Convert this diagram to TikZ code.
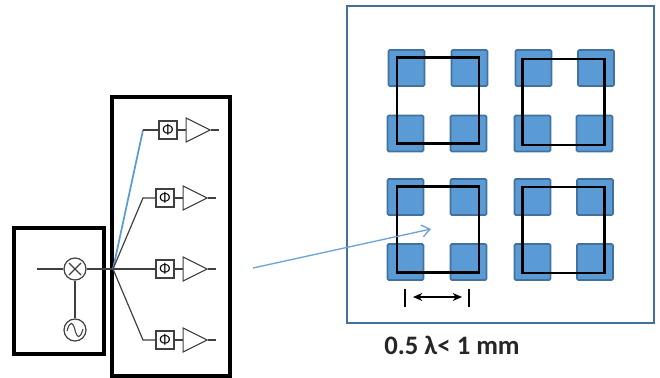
\documentclass[tikz,border=0pt]{standalone}
\usepackage{fontspec}
\setmainfont{Carlito}
\usepackage{tikz}
\usetikzlibrary{positioning, shapes.geometric, arrows.meta}

\definecolor{patchfill}{HTML}{5B9BD5}
\definecolor{patchline}{HTML}{41719C}
\definecolor{arrowblue}{HTML}{6FA3D6}
\definecolor{wiregray}{HTML}{404040}

\begin{document}
\begin{tikzpicture}[x=0.75pt, y=-0.75pt,
    frame/.style={draw, line width=2.6pt},
    patch/.style={draw=patchline, fill=patchfill, line width=1.2pt, rounded corners=1pt, minimum size=27pt},
    chip/.style={draw, line width=2pt, minimum width=61.5pt, minimum height=64.5pt},
    wire/.style={draw=wiregray, line width=0.9pt},
    phaseshift/.style={draw=wiregray, line width=0.8pt, minimum size=13.5pt, inner sep=0pt, font=\fontsize{11}{11}\selectfont},
    amp/.style={draw=wiregray, line width=0.8pt, isosceles triangle, isosceles triangle stretches, minimum width=18pt, minimum height=18pt, inner sep=0pt},
    mixernode/.style={draw=wiregray, line width=0.9pt, circle, minimum size=16.5pt, inner sep=0pt,
        path picture={\draw[wiregray, line width=0.8pt, shift={(path picture bounding box.center)}] (-6,-6) -- (6,6) (-6,6) -- (6,-6);}},
    oscnode/.style={draw=wiregray, line width=0.9pt, circle, minimum size=16.5pt, inner sep=0pt,
        path picture={\draw[wiregray, line width=0.8pt, shift={(path picture bounding box.center)}] (-8,1) .. controls (-5,-10) and (-2,-8) .. (0,0) .. controls (2,8) and (5,10) .. (8,-1);}}
]
    \useasboundingbox (0,0) rectangle (660,378);

    % Boxes round the two circuit parts
    \node (leftbox) [frame, minimum width=67.5pt, minimum height=94.5pt] at (59,291) {};
    \node (rightbox) [frame, minimum width=88.5pt, minimum height=209pt] at (171,236.5) {};

    % Mixer and oscillator
    \node (mixer) [mixernode] at (75,269) {};
    \node (osc) [oscnode] at (75,330) {};
    \coordinate (input) at (37,269);
    \coordinate (split) at (113,269);

    % Phase shifters with their amplifiers
    \node (phaseA) [phaseshift] at (168,130) {Φ};
    \node (phaseB) [phaseshift] at (165,198) {Φ};
    \node (phaseC) [phaseshift] at (165,269) {Φ};
    \node (phaseD) [phaseshift] at (165,340) {Φ};
    \node (ampA) [amp, right=6pt of phaseA] {};
    \node (ampB) [amp, right=6pt of phaseB] {};
    \node (ampC) [amp, right=6pt of phaseC] {};
    \node (ampD) [amp, right=6pt of phaseD] {};
    \coordinate (kneeA) at (143,130);
    \coordinate (kneeB) at (143,198);
    \coordinate (kneeD) at (143,340);
    \coordinate [right=6pt of ampA.apex] (outA);
    \coordinate [right=6pt of ampB.apex] (outB);
    \coordinate [right=6pt of ampC.apex] (outC);
    \coordinate [right=6pt of ampD.apex] (outD);

    % Wiring
    \draw[wire] (input) -- (mixer);
    \draw[wire] (mixer) -- (osc);
    \draw[wire] (mixer) -- (split);
    \draw[wire] (split) -- (phaseC);
    \draw[patchfill, line width=1.3pt] (split) -- (kneeA);
    \draw[wire] (kneeA) -- (phaseA);
    \draw[wire] (split) -- (kneeB) -- (phaseB);
    \draw[wire] (split) -- (kneeD) -- (phaseD);
    \draw[wire] (phaseA) -- (ampA);
    \draw[wire] (phaseB) -- (ampB);
    \draw[wire] (phaseC) -- (ampC);
    \draw[wire] (phaseD) -- (ampD);
    \draw[wire] (ampA.apex) -- (outA);
    \draw[wire] (ampB.apex) -- (outB);
    \draw[wire] (ampC.apex) -- (outC);
    \draw[wire] (ampD.apex) -- (outD);

    % Array panel with its patches
    \node (panel) [draw=patchline, line width=1.6pt, minimum width=230pt, minimum height=237.5pt] at (500.5,164.5) {};
    \node (p11) [patch] at (406.5,68) {};
    \node (p12) [patch] at (469.5,68) {};
    \node (p13) [patch] at (533.5,68) {};
    \node (p14) [patch] at (596,68) {};
    \node (p21) [patch] at (405.5,133.5) {};
    \node (p22) [patch] at (468.5,133.5) {};
    \node (p23) [patch] at (532.5,133.5) {};
    \node (p24) [patch] at (594.5,133.5) {};
    \node (p31) [patch] at (405.5,197) {};
    \node (p32) [patch] at (468.5,197) {};
    \node (p33) [patch] at (532.5,197) {};
    \node (p34) [patch] at (595,197) {};
    \node (p41) [patch] at (405.5,262) {};
    \node (p42) [patch] at (468.5,262) {};
    \node (p43) [patch] at (532.5,262) {};
    \node (p44) [patch] at (595,262) {};

    % Chips over the patches
    \node (chipA) [chip] at (438,100.5) {};
    \node (chipB) [chip] at (563.5,102) {};
    \node (chipC) [chip] at (438,229.5) {};
    \node (chipD) [chip] at (563.5,230) {};

    % Arrow from the circuit to one chip
    \coordinate (from) at (253,268);
    \coordinate (to) at (431,229);
    \draw[-{Straight Barb[length=6pt,width=9pt]}, arrowblue, line width=1pt] (from) -- (to);

    % Spacing mark
    \coordinate (tickAtop) at (405,289);
    \coordinate (tickAbot) at (405,307);
    \coordinate (tickBtop) at (469,289);
    \coordinate (tickBbot) at (469,307);
    \coordinate (spanA) at (413,297);
    \coordinate (spanB) at (462,297);
    \draw[line width=0.8pt] (tickAtop) -- (tickAbot);
    \draw[line width=0.8pt] (tickBtop) -- (tickBbot);
    \draw[{Stealth[length=7pt,width=6pt]}-{Stealth[length=7pt,width=6pt]}, line width=0.9pt] (spanA) -- (spanB);

    \node (spacing) [font=\fontsize{20}{22}\selectfont\bfseries, text=black!85] at (452,345) {0.5 λ< 1 mm};
\end{tikzpicture}
\end{document}
